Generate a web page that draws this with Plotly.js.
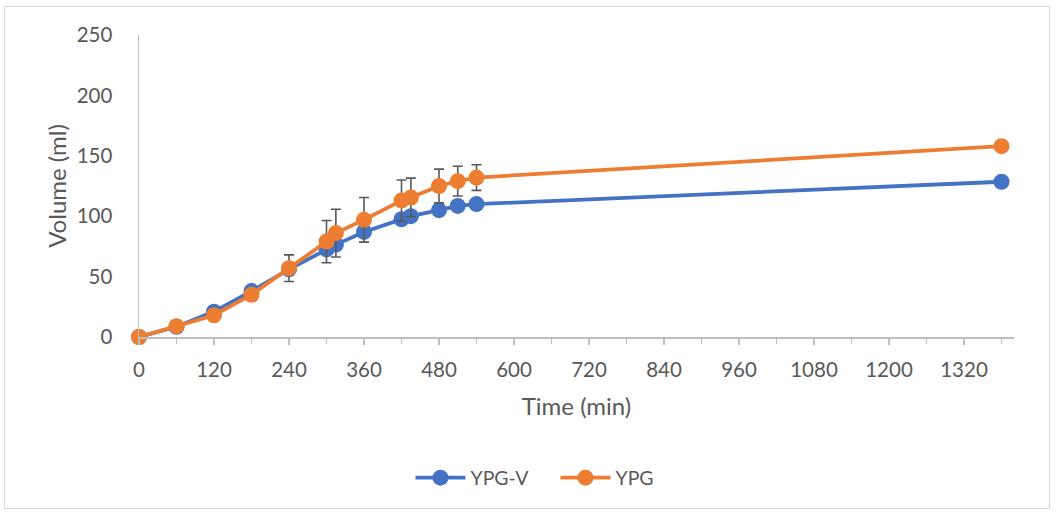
<!DOCTYPE html>
<html>
<head>
<meta charset="utf-8">
<script src="https://cdn.plot.ly/plotly-3.0.1.min.js"></script>
<style>
  html, body { margin: 0; padding: 0; background: #fff; }
  #wrap { position: relative; width: 1056px; height: 514px; }
  #chart { width: 1056px; height: 514px; }
  #frame { position: absolute; left: 4px; top: 6px; width: 1046px; height: 503px;
           border: 1px solid #d9d9d9; pointer-events: none; box-sizing: border-box; }
</style>
</head>
<body>
<div id="wrap"><div id="chart"></div><div id="frame"></div></div>
<script>
// Data
const timeMin = [0, 60, 120, 180, 240, 300, 315, 360, 420, 435, 480, 510, 540, 1380];
const ypgV    = [0, 8.5, 21, 38, 56, 72.5, 76.5, 87, 97.5, 100, 105, 108.5, 110, 128.5];
const ypg     = [0, 9, 18, 35, 57, 79, 86, 97, 113, 115.5, 125, 129, 132, 158];
const ypgErr  = [0, 0, 0, 0, 11, 17.5, 19.8, 18.5, 17, 16, 14, 12.3, 10.6, 0];
const xTicks  = [0, 120, 240, 360, 480, 600, 720, 840, 960, 1080, 1200, 1320];
const seriesNames = ['YPG-V', 'YPG'];

const fontFam = 'Lato, "Open Sans", sans-serif';
const gray = '#595959';

const traces = [
  {
    x: timeMin, y: ypgV, name: seriesNames[0], type: 'scatter', mode: 'lines+markers',
    cliponaxis: false,
    line: { color: '#4472C4', width: 3.8 },
    marker: { color: '#4472C4', size: 16 }
  },
  {
    x: timeMin, y: ypg, name: seriesNames[1], type: 'scatter', mode: 'lines+markers',
    cliponaxis: false,
    line: { color: '#ED7D31', width: 3.8 },
    marker: { color: '#ED7D31', size: 16 },
    error_y: { type: 'data', array: ypgErr, visible: true, color: gray, thickness: 1.6, width: 5 }
  }
];

const layout = {
  width: 1056, height: 514,
  margin: { l: 139, r: 42, t: 35, b: 177 },
  paper_bgcolor: '#fff', plot_bgcolor: '#fff',
  font: { family: fontFam, color: gray, size: 20 },
  showlegend: true,
  legend: {
    orientation: 'h', xref: 'container', yref: 'container',
    x: 0.3887, xanchor: 'left', y: 0.07, yanchor: 'middle',
    font: { family: fontFam, size: 19.5, color: gray },
    itemwidth: 50, tracegroupgap: 0,
    entrywidth: 80, entrywidthmode: 'pixels'
  },
  xaxis: {
    range: [0, 1400], tickvals: xTicks, ticktext: xTicks.map(String),
    showgrid: false, zeroline: false, showline: true, linecolor: '#bfbfbf', linewidth: 1.5,
    ticks: 'outside', ticklen: 6, tickcolor: '#bfbfbf', tickwidth: 1.5,
    ticklabelstandoff: 8,
    minor: { dtick: 60, tick0: 0, ticks: 'outside', ticklen: 5, tickcolor: '#bfbfbf', tickwidth: 1.5, showgrid: false },
    tickfont: { family: fontFam, size: 20.5, color: gray },
    title: { text: 'Time (min)', font: { family: fontFam, size: 24, color: gray }, standoff: 18 }
  },
  yaxis: {
    range: [0, 250], dtick: 50, tick0: 0,
    showgrid: false, zeroline: false, showline: true, linecolor: '#bfbfbf', linewidth: 1.5,
    ticks: '', ticklabelstandoff: 21,
    tickfont: { family: fontFam, size: 20.5, color: gray },
    title: { text: 'Volume (ml)', font: { family: fontFam, size: 24, color: gray }, standoff: 3 }
  }
};

Plotly.newPlot('chart', traces, layout, { displayModeBar: false, staticPlot: true });
</script>
</body>
</html>
